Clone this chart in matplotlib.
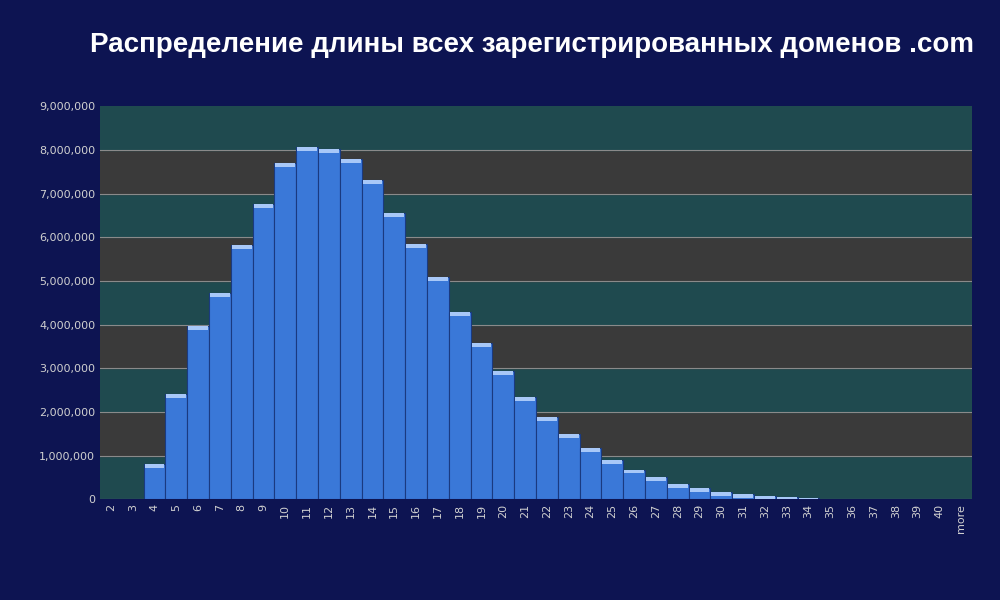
import matplotlib.pyplot as plt
import numpy as np
from matplotlib.ticker import FuncFormatter

# длина домена -> количество
categories = [str(i) for i in range(2, 41)] + ['more']
counts = [0, 0, 800000, 2400000, 3970000, 4730000, 5830000, 6770000, 7700000,
          8070000, 8020000, 7800000, 7300000, 6560000, 5840000, 5080000, 4280000,
          3570000, 2930000, 2350000, 1880000, 1500000, 1180000, 900000, 680000,
          500000, 350000, 250000, 170000, 120000, 80000, 50000, 30000, 10000,
          0, 0, 0, 0, 0, 0]
title = 'Распределение длины всех зарегистрированных доменов .com'

fig = plt.figure(figsize=(10, 6), dpi=100, facecolor='#0d1452')
ax = fig.add_axes([0.100, 0.168, 0.872, 0.655])
ax.set_facecolor('#1f4a4f')

# чередующиеся полосы фона
for k in range(9):
    ax.axhspan(k * 1e6, (k + 1) * 1e6, color='#1f4a4f' if k % 2 == 0 else '#3a3a3a', zorder=0)
    ax.axhline(k * 1e6, color='#8a8a8a', lw=0.8, zorder=1)

x = np.arange(len(categories))
ax.bar(x, counts, width=1.0, color='#3a78d8', edgecolor='#1a3a80', linewidth=0.8, zorder=2)
# светлый блик сверху столбцов
for xi, v in zip(x, counts):
    if v > 0:
        ax.bar(xi, min(v, 90000), bottom=v - min(v, 90000), width=0.9,
               color='#a8c8f8', linewidth=0, zorder=3)

ax.set_xlim(-0.5, len(categories) - 0.5)
ax.set_ylim(0, 9e6)
ax.set_yticks(np.arange(0, 9.5e6, 1e6))
ax.yaxis.set_major_formatter(FuncFormatter(lambda v, p: f'{int(v):,}'))
ax.set_xticks(x)
ax.set_xticklabels(categories, rotation=90)
ax.tick_params(colors='#d0d0d0', labelsize=8, length=0)
for s in ax.spines.values():
    s.set_visible(False)

fig.text(0.532, 0.925, title, color='white', fontsize=20, fontweight='bold',
         ha='center', va='center', family=['Liberation Sans', 'DejaVu Sans'])

fig.savefig('out.png', dpi=100, facecolor=fig.get_facecolor())
